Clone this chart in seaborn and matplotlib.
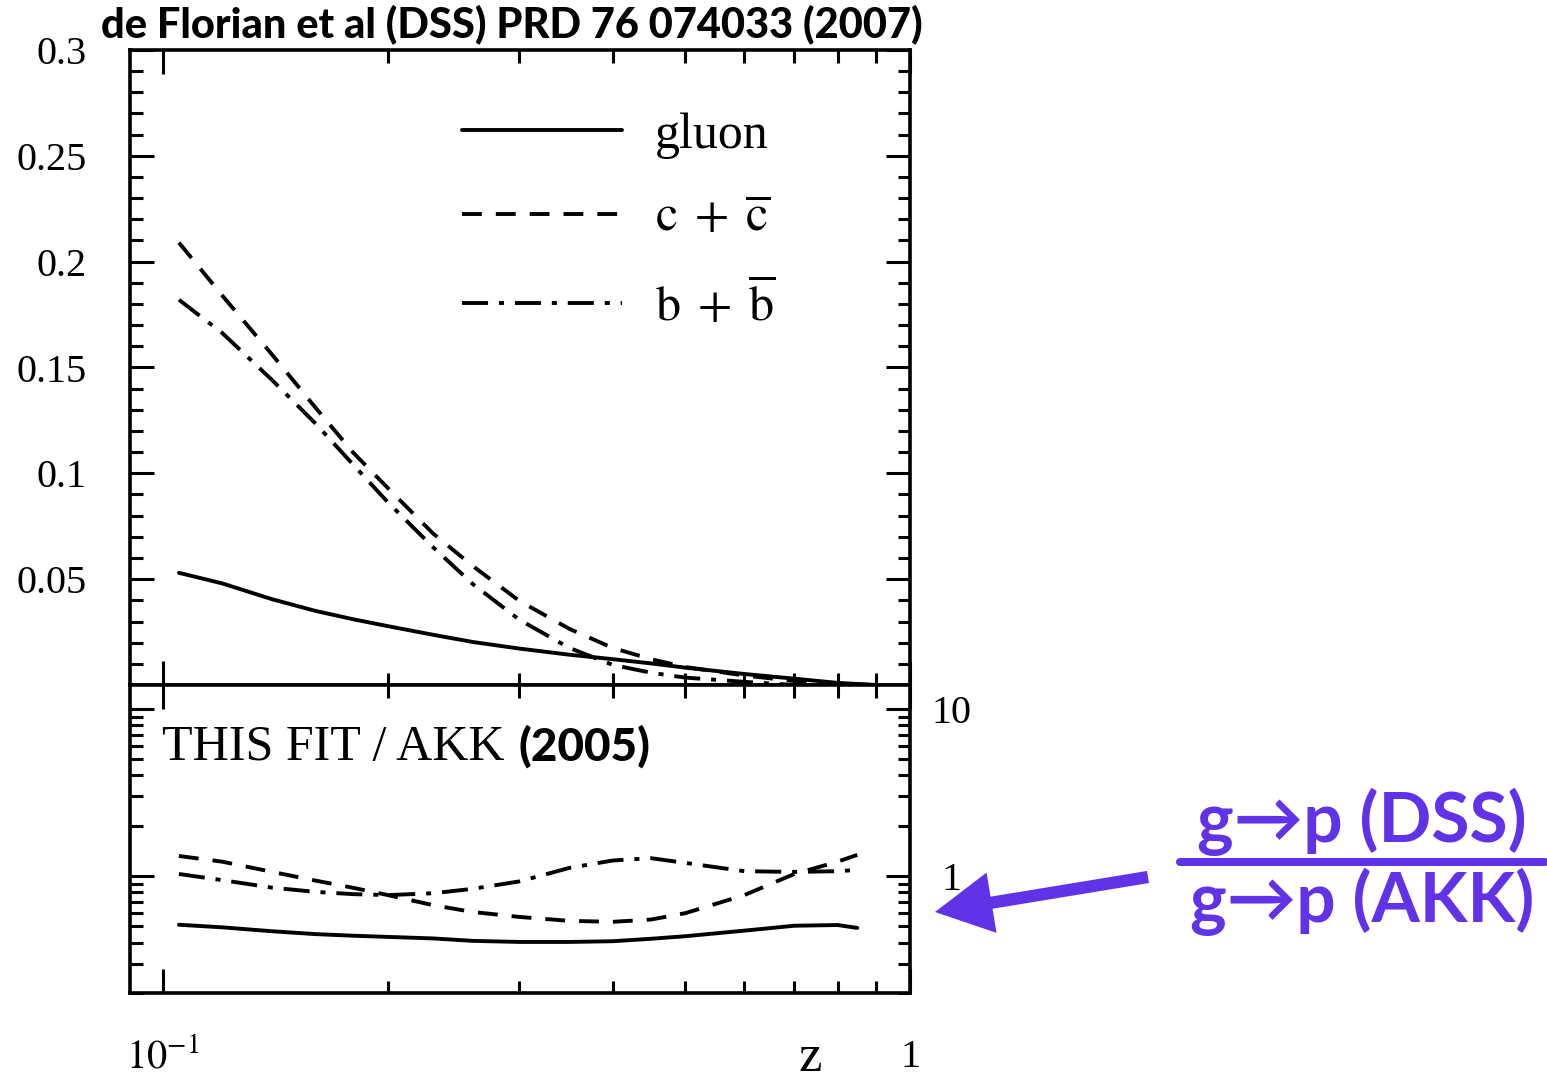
import numpy as np
import matplotlib
matplotlib.use('Agg')
import matplotlib.pyplot as plt
import matplotlib.ticker as mticker
from matplotlib.lines import Line2D
from matplotlib.patches import FancyArrowPatch
import seaborn as sns

# ── Data ───────────────────────────────────────────────────────────
z_top = [0.105, 0.12, 0.14, 0.16, 0.18, 0.2, 0.23, 0.26, 0.3, 0.35,
         0.4, 0.45, 0.5, 0.6, 0.7, 0.8, 0.9]
gluon = [0.053, 0.048, 0.0405, 0.035, 0.031, 0.0278, 0.0237, 0.0203, 0.0172, 0.0143,
         0.0122, 0.0102, 0.0082, 0.0052, 0.003, 0.001, 0.0]
charm = [0.209, 0.184, 0.156, 0.131, 0.1095, 0.093, 0.0715, 0.0561, 0.0397, 0.0265,
         0.0175, 0.0122, 0.0085, 0.0045, 0.0019, 0.0005, 0.0]
bottom = [0.182, 0.1663, 0.144, 0.1235, 0.1038, 0.0863, 0.065, 0.0476, 0.0308, 0.0175,
          0.0095, 0.0058, 0.0035, 0.0015, 0.0, -0.003, -0.004]

z_ratio = [0.105, 0.12, 0.14, 0.16, 0.18, 0.2, 0.23, 0.26, 0.3, 0.35,
           0.4, 0.45, 0.5, 0.6, 0.7, 0.8, 0.85]
gluon_ratio = [0.512, 0.494, 0.468, 0.45, 0.44, 0.433, 0.424, 0.41, 0.404, 0.404,
               0.408, 0.422, 0.437, 0.472, 0.505, 0.51, 0.49]
charm_ratio = [1.32, 1.22, 1.06, 0.94, 0.85, 0.77, 0.67, 0.61, 0.57, 0.54,
               0.533, 0.55, 0.6, 0.77, 1.03, 1.22, 1.34]
bottom_ratio = [1.03, 0.946, 0.853, 0.805, 0.78, 0.77, 0.79, 0.84, 0.93, 1.12,
                1.24, 1.28, 1.2, 1.07, 1.06, 1.07, 1.09]

labels = ['gluon', r'$\mathrm{c}\;+\;\overline{\mathrm{c}}$',
          r'$\mathrm{b}\;+\;\overline{\mathrm{b}}$']
top_yticks = [0.05, 0.1, 0.15, 0.2, 0.25, 0.3]
top_yticklabels = ['0.05', '0.1', '0.15', '0.2', '0.25', '0.3']
ratio_yticks = [1, 10]
ratio_yticklabels = ['1', '10']
xticks = [0.1, 1]
xticklabels = [r'$10^{-1}$', '1']

title = 'de Florian et al (DSS) PRD 76 074033 (2007)'
ratio_note = 'THIS FIT / AKK'
ratio_year = '(2005)'
frac_top = 'g\u2192p (DSS)'
frac_bot = 'g\u2192p (AKK)'

# ── Style ─────────────────────────────────────────────────────────
sns.set_style('ticks')
plt.rcParams['font.family'] = ['Liberation Serif', 'DejaVu Serif']
plt.rcParams['mathtext.fontset'] = 'stix'
for key in ['text.color', 'axes.labelcolor', 'xtick.color', 'ytick.color', 'axes.edgecolor']:
    plt.rcParams[key] = 'black'
SANS = ['Lato', 'DejaVu Sans']
PURPLE = '#6033E8'
LW = 2.8
styles = ['-', (0, (5.1, 3.6)), (0, (6.7, 2.8, 1.3, 2.8))]

W, H = 1547, 1084
fig = plt.figure(figsize=(W / 100, H / 100), dpi=100)
ax1 = fig.add_axes([130 / W, 1 - 685 / H, 780 / W, 635 / H])
ax2 = fig.add_axes([130 / W, 1 - 993 / H, 780 / W, 308 / H])

# ── Top panel: fragmentation functions ────────────────────────────
for vals, ls, lab in zip([gluon, charm, bottom], styles, labels):
    sns.lineplot(x=np.array(z_top), y=np.array(vals), ax=ax1, color='black',
                 lw=LW, linestyle=ls, label=lab, sort=False, estimator=None)

ax1.set_xscale('log')
ax1.set_xlim(0.0903, 1.0)
ax1.set_ylim(0, 0.3)
ax1.yaxis.set_major_locator(mticker.FixedLocator(top_yticks))
ax1.yaxis.set_major_formatter(mticker.FixedFormatter(top_yticklabels))
ax1.yaxis.set_minor_locator(mticker.MultipleLocator(0.01))
ax1.xaxis.set_major_locator(mticker.FixedLocator(xticks))
ax1.xaxis.set_minor_locator(mticker.LogLocator(base=10, subs=np.arange(2, 10), numticks=20))
ax1.xaxis.set_minor_formatter(mticker.NullFormatter())
ax1.set_xlabel('')
ax1.set_ylabel('')

handles, _ = ax1.get_legend_handles_labels()
ax1.legend(handles, labels, loc='upper left', bbox_to_anchor=(0.4256, 0.902),
           frameon=False, fontsize=36, handlelength=3.2, handletextpad=0.66,
           labelspacing=0.74, borderpad=0, borderaxespad=0)

# ── Bottom panel: ratio ───────────────────────────────────────────
for vals, ls in zip([gluon_ratio, charm_ratio, bottom_ratio], styles):
    sns.lineplot(x=np.array(z_ratio), y=np.array(vals), ax=ax2, color='black',
                 lw=LW, linestyle=ls, sort=False, estimator=None, legend=False)

ax2.set_xscale('log')
ax2.set_yscale('log')
ax2.set_xlim(0.0903, 1.0)
ax2.set_ylim(0.2, 13.9)
ax2.xaxis.set_major_locator(mticker.FixedLocator(xticks))
ax2.xaxis.set_major_formatter(mticker.FixedFormatter(xticklabels))
ax2.xaxis.set_minor_locator(mticker.LogLocator(base=10, subs=np.arange(2, 10), numticks=20))
ax2.xaxis.set_minor_formatter(mticker.NullFormatter())
ax2.yaxis.set_major_locator(mticker.FixedLocator(ratio_yticks))
ax2.yaxis.set_major_formatter(mticker.FixedFormatter(ratio_yticklabels))
ax2.yaxis.set_minor_locator(mticker.LogLocator(base=10, subs=np.arange(2, 10), numticks=20))
ax2.yaxis.set_minor_formatter(mticker.NullFormatter())
ax2.set_ylabel('')
ax2.set_xlabel('z', fontsize=38)
ax2.xaxis.set_label_coords(0.872, -0.21)
ax2.xaxis.label.set_va('center')

# ── Axes cosmetics ────────────────────────────────────────────────
for ax in (ax1, ax2):
    for sp in ax.spines.values():
        sp.set_linewidth(2.6)
        sp.set_color('black')
    ax.tick_params(which='both', direction='in', top=True, right=True,
                   width=2.2, color='black', labelsize=29)
    ax.tick_params(which='major', length=17)
    ax.tick_params(which='minor', length=9)

ax1.tick_params(axis='x', which='both', labelbottom=False)
ax1.tick_params(axis='y', pad=31)
ax2.tick_params(axis='y', which='both', labelleft=False, labelright=True, pad=30)
ax2.tick_params(axis='x', pad=33)
plt.setp(ax2.get_yticklabels(), ha='center')

# ── Texts ─────────────────────────────────────────────────────────
fig.text(512 / W, 1 - 24 / H, title, ha='center', va='center',
         family=SANS, weight='black', fontsize=30)

t1 = ax2.text(0.041, 0.756, ratio_note, transform=ax2.transAxes,
              fontsize=36, va='baseline')
fig.canvas.draw()
bb = t1.get_window_extent()
x2 = ax2.transAxes.inverted().transform((bb.x1 + 14, 0))[0]
ax2.text(x2, 0.756, ratio_year, transform=ax2.transAxes, family=SANS,
         weight='black', fontsize=33, va='baseline')

# purple ratio annotation with arrow
fig.text(1362 / W, 1 - 822 / H, frac_top, ha='center', va='center',
         family=SANS, weight='bold', fontsize=50, color=PURPLE)
fig.text(1362 / W, 1 - 902 / H, frac_bot, ha='center', va='center',
         family=SANS, weight='bold', fontsize=50, color=PURPLE)
fig.add_artist(Line2D([1180 / W, 1545 / W], [1 - 862 / H, 1 - 862 / H],
                      transform=fig.transFigure, color=PURPLE, lw=5.8))
fig.add_artist(FancyArrowPatch((1148 / W, 1 - 877 / H), (935 / W, 1 - 912 / H),
                               transform=fig.transFigure, color=PURPLE, lw=0,
                               arrowstyle='simple,head_length=0.75,head_width=0.8,tail_width=0.16',
                               mutation_scale=55, shrinkA=0, shrinkB=0))

fig.savefig('out.png', dpi=100)
